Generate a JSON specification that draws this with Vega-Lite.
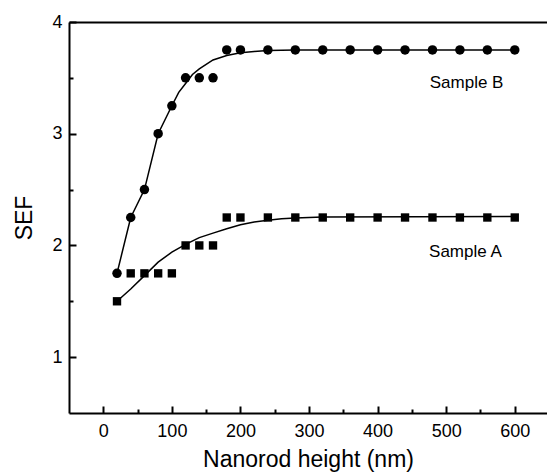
{
  "$schema": "https://vega.github.io/schema/vega-lite/v6.json",
  "width": 478,
  "height": 391,
  "autosize": "none",
  "padding": {"left": 69, "top": 22, "right": 0, "bottom": 59},
  "background": "white",
  "config": {"view": {"stroke": null}, "font": "Liberation Sans"},
  "datasets": {
    "pts": [
      {"sample": "Sample B", "x": 20, "y": 1.75},
      {"sample": "Sample B", "x": 40, "y": 2.25},
      {"sample": "Sample B", "x": 60, "y": 2.5},
      {"sample": "Sample B", "x": 80, "y": 3.0},
      {"sample": "Sample B", "x": 100, "y": 3.25},
      {"sample": "Sample B", "x": 120, "y": 3.5},
      {"sample": "Sample B", "x": 140, "y": 3.5},
      {"sample": "Sample B", "x": 160, "y": 3.5},
      {"sample": "Sample B", "x": 180, "y": 3.75},
      {"sample": "Sample B", "x": 200, "y": 3.75},
      {"sample": "Sample B", "x": 240, "y": 3.75},
      {"sample": "Sample B", "x": 280, "y": 3.75},
      {"sample": "Sample B", "x": 320, "y": 3.75},
      {"sample": "Sample B", "x": 360, "y": 3.75},
      {"sample": "Sample B", "x": 400, "y": 3.75},
      {"sample": "Sample B", "x": 440, "y": 3.75},
      {"sample": "Sample B", "x": 480, "y": 3.75},
      {"sample": "Sample B", "x": 520, "y": 3.75},
      {"sample": "Sample B", "x": 560, "y": 3.75},
      {"sample": "Sample B", "x": 600, "y": 3.75},
      {"sample": "Sample A", "x": 20, "y": 1.5},
      {"sample": "Sample A", "x": 40, "y": 1.75},
      {"sample": "Sample A", "x": 60, "y": 1.75},
      {"sample": "Sample A", "x": 80, "y": 1.75},
      {"sample": "Sample A", "x": 100, "y": 1.75},
      {"sample": "Sample A", "x": 120, "y": 2.0},
      {"sample": "Sample A", "x": 140, "y": 2.0},
      {"sample": "Sample A", "x": 160, "y": 2.0},
      {"sample": "Sample A", "x": 180, "y": 2.25},
      {"sample": "Sample A", "x": 200, "y": 2.25},
      {"sample": "Sample A", "x": 240, "y": 2.25},
      {"sample": "Sample A", "x": 280, "y": 2.25},
      {"sample": "Sample A", "x": 320, "y": 2.25},
      {"sample": "Sample A", "x": 360, "y": 2.25},
      {"sample": "Sample A", "x": 400, "y": 2.25},
      {"sample": "Sample A", "x": 440, "y": 2.25},
      {"sample": "Sample A", "x": 480, "y": 2.25},
      {"sample": "Sample A", "x": 520, "y": 2.25},
      {"sample": "Sample A", "x": 560, "y": 2.25},
      {"sample": "Sample A", "x": 600, "y": 2.25}
    ],
    "fit": [
      {"sample": "Sample B", "x": 20, "y": 1.75},
      {"sample": "Sample B", "x": 40, "y": 2.25},
      {"sample": "Sample B", "x": 60, "y": 2.5},
      {"sample": "Sample B", "x": 80, "y": 3.0},
      {"sample": "Sample B", "x": 100, "y": 3.25},
      {"sample": "Sample B", "x": 110, "y": 3.37},
      {"sample": "Sample B", "x": 120, "y": 3.45},
      {"sample": "Sample B", "x": 130, "y": 3.53},
      {"sample": "Sample B", "x": 140, "y": 3.58},
      {"sample": "Sample B", "x": 160, "y": 3.66},
      {"sample": "Sample B", "x": 180, "y": 3.7},
      {"sample": "Sample B", "x": 200, "y": 3.725},
      {"sample": "Sample B", "x": 220, "y": 3.737},
      {"sample": "Sample B", "x": 240, "y": 3.745},
      {"sample": "Sample B", "x": 280, "y": 3.75},
      {"sample": "Sample B", "x": 600, "y": 3.75},
      {"sample": "Sample A", "x": 20, "y": 1.5},
      {"sample": "Sample A", "x": 40, "y": 1.61},
      {"sample": "Sample A", "x": 60, "y": 1.73},
      {"sample": "Sample A", "x": 80, "y": 1.85},
      {"sample": "Sample A", "x": 100, "y": 1.94},
      {"sample": "Sample A", "x": 120, "y": 2.01},
      {"sample": "Sample A", "x": 140, "y": 2.07},
      {"sample": "Sample A", "x": 160, "y": 2.11},
      {"sample": "Sample A", "x": 180, "y": 2.15},
      {"sample": "Sample A", "x": 200, "y": 2.185},
      {"sample": "Sample A", "x": 220, "y": 2.21},
      {"sample": "Sample A", "x": 240, "y": 2.225},
      {"sample": "Sample A", "x": 260, "y": 2.238},
      {"sample": "Sample A", "x": 280, "y": 2.245},
      {"sample": "Sample A", "x": 300, "y": 2.25},
      {"sample": "Sample A", "x": 320, "y": 2.254},
      {"sample": "Sample A", "x": 600, "y": 2.26}
    ],
    "labels": [
      {"label": "Sample B", "x": 476, "y": 3.406},
      {"label": "Sample A", "x": 475, "y": 1.896}
    ]
  },
  "layer": [
    {
      "data": {"name": "fit"},
      "mark": {"type": "line", "color": "black", "strokeWidth": 1.5},
      "encoding": {
        "x": {
          "field": "x", "type": "quantitative",
          "scale": {"domain": [-50, 647], "nice": false, "zero": false},
          "axis": {
            "orient": "bottom",
            "values": [0, 100, 200, 300, 400, 500, 600],
            "format": "d",
            "grid": false,
            "domainColor": "black", "domainWidth": 2,
            "tickColor": "black", "tickWidth": 2, "tickSize": -7,
            "labelPadding": 16,
            "labelFontSize": 18, "labelColor": "black",
            "title": "Nanorod height (nm)",
            "titleFontSize": 23, "titleFontWeight": "normal", "titleColor": "black",
            "titlePadding": 8
          }
        },
        "y": {
          "field": "y", "type": "quantitative",
          "scale": {"domain": [0.5, 4], "nice": false, "zero": false},
          "axis": {
            "orient": "left",
            "values": [1, 2, 3, 4],
            "format": "d",
            "grid": false,
            "domainColor": "black", "domainWidth": 2,
            "tickColor": "black", "tickWidth": 2, "tickSize": -7,
            "labelPadding": 14,
            "labelFontSize": 18, "labelColor": "black",
            "title": "SEF",
            "titleFontSize": 23, "titleFontWeight": "normal", "titleColor": "black",
            "titlePadding": 15
          }
        },
        "detail": {"field": "sample", "type": "nominal"}
      }
    },
    {
      "data": {"name": "pts"},
      "mark": {"type": "point", "filled": true, "opacity": 1, "color": "black"},
      "encoding": {
        "x": {
          "field": "x", "type": "quantitative",
          "axis": {"orient": "bottom", "values": [50, 150, 250, 350, 450, 550], "domain": false, "labels": false, "grid": false, "title": null, "tickColor": "black", "tickWidth": 2, "tickSize": -4}
        },
        "y": {
          "field": "y", "type": "quantitative",
          "axis": {"orient": "left", "values": [1.5, 2.5, 3.5], "domain": false, "labels": false, "grid": false, "title": null, "tickColor": "black", "tickWidth": 2, "tickSize": -4}
        },
        "shape": {"field": "sample", "type": "nominal", "scale": {"domain": ["Sample A", "Sample B"], "range": ["square", "circle"]}, "legend": null},
        "size": {"field": "sample", "type": "nominal", "scale": {"domain": ["Sample A", "Sample B"], "range": [70, 90]}, "legend": null}
      }
    },
    {
      "data": {"name": "labels"},
      "mark": {"type": "text", "align": "left", "baseline": "alphabetic", "fontSize": 17, "color": "black", "font": "Liberation Sans"},
      "encoding": {
        "x": {
          "field": "x", "type": "quantitative",
          "axis": {"orient": "top", "domain": true, "domainColor": "black", "domainWidth": 2, "ticks": false, "labels": false, "grid": false, "title": null}
        },
        "y": {"field": "y", "type": "quantitative", "axis": null},
        "text": {"field": "label"}
      }
    }
  ],
  "resolve": {"axis": {"x": "independent", "y": "independent"}}
}
